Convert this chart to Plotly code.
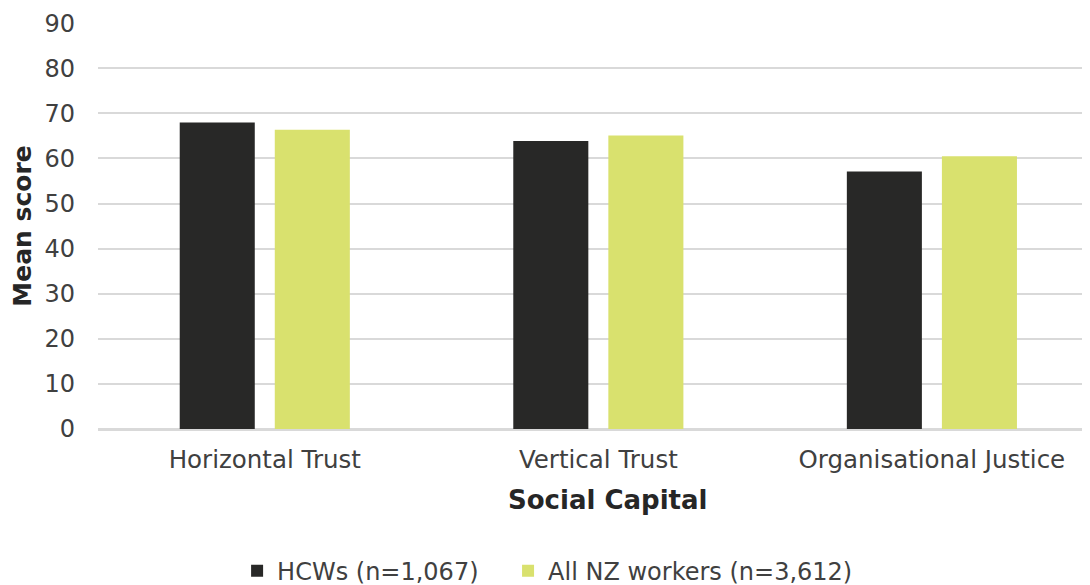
import plotly.graph_objects as go

categories = ["Horizontal Trust", "Vertical Trust", "Organisational Justice"]
hcws = [68.0, 63.9, 57.1]
all_nz = [66.4, 65.1, 60.5]
series_names = ["HCWs (n=1,067)", "All NZ workers (n=3,612)"]
y_ticks = [0, 10, 20, 30, 40, 50, 60, 70, 80, 90]
x_title = "Social Capital"
y_title = "Mean score"

font_family = "DejaVu Sans, Verdana, sans-serif"
text_color = "#404040"
title_color = "#262626"

fig = go.Figure()
fig.add_trace(go.Bar(x=categories, y=hcws, name=series_names[0], legend="legend",
                     marker=dict(color="#282827", line=dict(width=0))))
fig.add_trace(go.Bar(x=categories, y=all_nz, name=series_names[1], legend="legend2",
                     marker=dict(color="#d9e16e", line=dict(width=0))))

legend_common = dict(orientation="h", yanchor="middle", y=-0.35, xanchor="left",
                     font=dict(size=24, color=text_color), itemwidth=30,
                     bgcolor="rgba(0,0,0,0)")

# the page adds an 8px body margin, so the figure is sized/offset to compensate
fig.update_layout(
    width=1082, height=577,
    margin=dict(l=90, r=2, t=15, b=156, autoexpand=False),
    paper_bgcolor="white", plot_bgcolor="white",
    barmode="group", bargap=0.43, bargroupgap=0.2105,
    font=dict(family=font_family, size=24, color=text_color),
    showlegend=True,
    legend=dict(x=0.1405, **legend_common),
    legend2=dict(x=0.4142, **legend_common),
    xaxis=dict(automargin=False, range=[-0.5, 2.468],
               showline=True, linecolor="#d9d9d9", linewidth=2, ticks="", showgrid=False,
               tickfont=dict(size=24.5, color=text_color), ticklabelstandoff=8),
    yaxis=dict(title=dict(text=f"<b>{y_title}</b>", font=dict(size=25, color=title_color), standoff=8),
               automargin=False,
               range=[0, 90.05], tickvals=y_ticks, showgrid=True, gridcolor="#d9d9d9", gridwidth=2,
               zeroline=True, zerolinecolor="#d9d9d9", zerolinewidth=2,
               tickfont=dict(size=24, color=text_color), ticks="", ticklabelstandoff=22),
    annotations=[dict(text=f"<b>{x_title}</b>", xref="paper", yref="paper",
                      x=0.515, y=-0.175, xanchor="center", yanchor="middle",
                      showarrow=False, font=dict(size=26, color=title_color))],
)

fig.write_html("out.html")
